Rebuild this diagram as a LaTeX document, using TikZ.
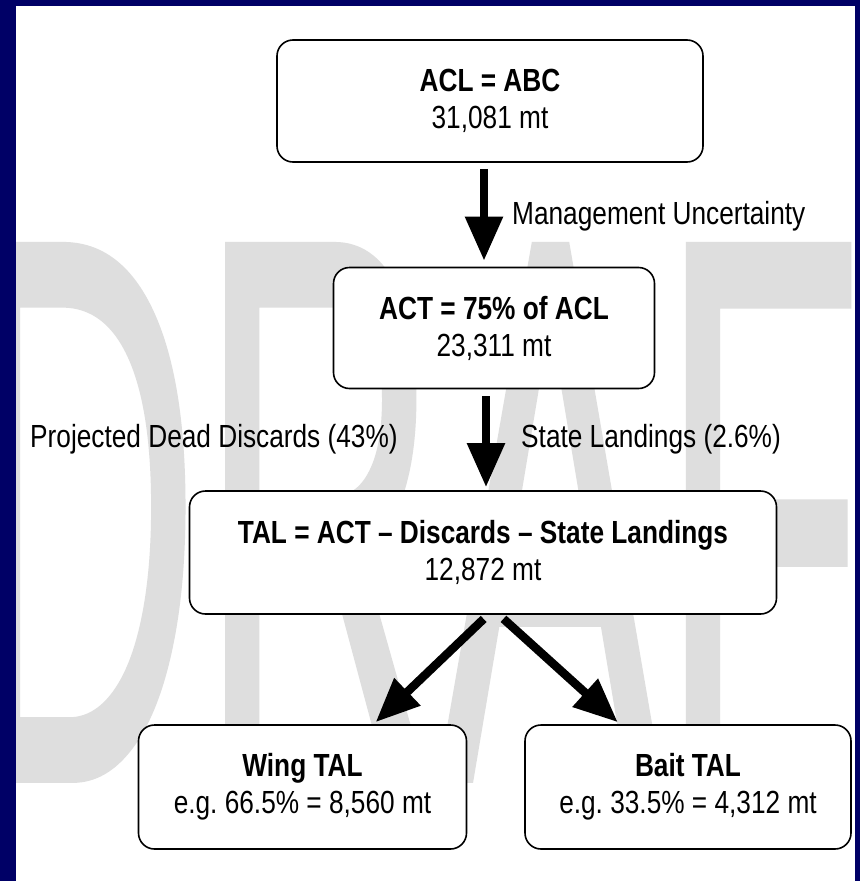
\documentclass[tikz,border=0pt]{standalone}
\usepackage{fontspec}
\usepackage{graphicx}
\setmainfont[FakeStretch=0.82]{Liberation Sans}
\newfontfamily\wmfont[FakeBold=1]{Liberation Sans}
\usetikzlibrary{arrows.meta}
\definecolor{navy}{RGB}{0,0,102}
\definecolor{wmgray}{RGB}{222,222,222}
\frenchspacing
\begin{document}
\begin{tikzpicture}[x=1pt,y=-1pt,
  box/.style={draw=black, line width=1.6pt, rounded corners=16pt, fill=white, align=center, inner sep=0pt, font=\fontsize{32}{37}\selectfont},
  lbl/.style={inner sep=0pt, font=\fontsize{32}{37}\selectfont},
  bigarrow/.style={line width=8.5pt, -{Triangle[length=44pt,width=36pt]}}]
\useasboundingbox (0,0) rectangle (860,881);
\fill[navy] (0,0) rectangle (860,881);
\fill[white] (16,6) rectangle (855,881);
\begin{scope}
\clip (16,6) rectangle (855,881);
\node[anchor=base west, inner sep=0pt, text=wmgray] (wm) at (-40,779) {\scalebox{0.428}[1]{\wmfont\fontsize{775}{775}\selectfont DRAFT}};
\end{scope}
\node[box, minimum width=426pt, minimum height=122pt] (acl) at (490,101) {\textbf{ACL = ABC}\\31,081 mt};
\node[box, minimum width=321pt, minimum height=121pt] (act) at (494,328) {\textbf{ACT = 75\% of ACL}\\23,311 mt};
\node[box, minimum width=587pt, minimum height=123pt] (tal) at (483,552.5) {\textbf{TAL = ACT – Discards – State Landings}\\12,872 mt};
\node[box, minimum width=328pt, minimum height=124pt] (wing) at (302.5,787) {\textbf{Wing TAL}\\e.g. 66.5\% = 8,560 mt};
\node[box, minimum width=326pt, minimum height=124pt] (bait) at (688,787) {\textbf{Bait TAL}\\e.g. 33.5\% = 4,312 mt};
\node[lbl, anchor=base west] (mu) at (512,224) {Management Uncertainty};
\node[lbl, anchor=base west] (pdd) at (30,447) {Projected Dead Discards (43\%)};
\node[lbl, anchor=base west] (sl) at (521,447) {State Landings (2.6\%)};
\draw[bigarrow, shorten <=6pt, shorten >=6pt] ([xshift=-6pt]acl.south) -- ([xshift=-10pt]act.north);
\draw[bigarrow, shorten <=7pt, shorten >=3pt] ([xshift=-8pt]act.south) -- ([xshift=3pt]tal.north);
\draw[bigarrow, shorten <=6pt, shorten >=3pt] ([xshift=5pt]tal.south) -- ([xshift=71pt]wing.north);
\draw[bigarrow, shorten <=6pt, shorten >=3pt] ([xshift=16pt]tal.south) -- ([xshift=-68pt]bait.north);
\end{tikzpicture}
\end{document}
